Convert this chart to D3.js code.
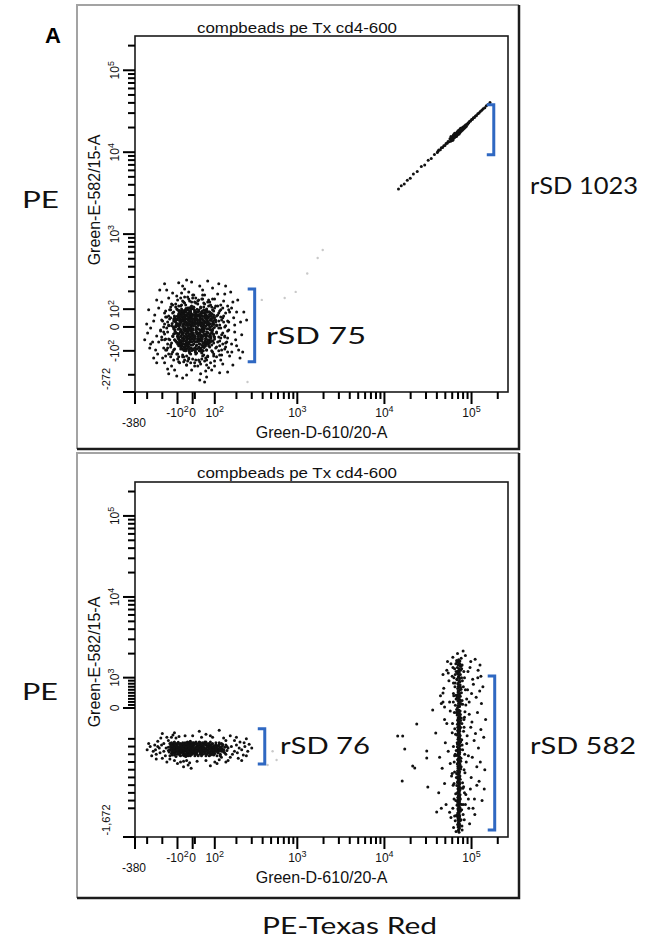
<!DOCTYPE html>
<html><head><meta charset="utf-8">
<script src="https://cdn.jsdelivr.net/npm/d3@7"></script>
<style>body{margin:0;background:#fff}svg{display:block}</style>
</head><body>
<svg id="c" width="656" height="941"></svg>
<script>
// ---------------- DATA ----------------
const xDomain = [-380, 262144];
const yDomainTop = [-272, 262144];
const yDomainBottom = [-1672, 262144];

const xTickVals = [-100, 0, 100, 1000, 10000, 100000];
const xTickBase = ["-10", "0", "10", "10", "10", "10"];
const xTickExp  = ["2", "", "2", "3", "4", "5"];
const xMinorTicks = [-300, -200, 10, 200, 300, 400, 500, 600, 700, 800, 900, 2000, 3000, 4000, 5000, 6000, 7000, 8000, 9000, 20000, 30000, 40000, 50000, 60000, 70000, 80000, 90000, 200000];

const yTickValsTop = [-100, 0, 100, 1000, 10000, 100000];
const yTickBaseTop = ["-10", "0", "10", "10", "10", "10"];
const yTickExpTop  = ["2", "", "2", "3", "4", "5"];
const yMinorTop = [-200, 200, 300, 400, 500, 600, 700, 800, 900, 2000, 3000, 4000, 5000, 6000, 7000, 8000, 9000, 20000, 30000, 40000, 50000, 60000, 70000, 80000, 90000, 200000];

const yTickValsBottom = [0, 1000, 10000, 100000];
const yTickBaseBottom = ["0", "10", "10", "10"];
const yTickExpBottom  = ["", "3", "4", "5"];
const yMinorBottom = [-1300, -1200, -1100, -1000, -900, -800, -700, -600, -500, -400, 100, 200, 300, 400, 500, 600, 700, 800, 900, 2000, 3000, 4000, 5000, 6000, 7000, 8000, 9000, 20000, 30000, 40000, 50000, 60000, 70000, 80000, 90000, 200000];

const panelTitle = "compbeads pe Tx cd4-600";
const xAxisTitle = "Green-D-610/20-A";
const yAxisTitle = "Green-E-582/15-A";

// top panel: unstained population (near zero) [x, y]
const negPopTop = [
[-12,5],[34,-22],[-58,40],[20,61],[-95,-30],[71,14],[5,-70],[-33,-48],[48,36],[-70,72],
[15,-15],[-5,28],[62,-51],[-110,10],[27,88],[-44,-8],[88,-20],[-20,-92],[39,7],[-80,-64],
[0,47],[57,66],[-125,45],[12,-40],[-60,-25],[62,-64],[-28,80],[44,-6],[-84,72],[23,22],
[-15,-60],[66,40],[-52,-85],[8,95],[-88,-5],[30,-88],[-38,18],[95,55],[-130,-40],[18,-30],
[-8,-12],[52,10],[-72,30],[36,75],[-86,-58],[82,-45],[-25,52],[3,-95],[-48,95],[60,-30],
[-18,38],[41,-60],[-65,-45],[14,70],[-120,62],[90,30],[-35,-72],[26,-10],[-82,12],[50,95],
[-3,-35],[70,-8],[-90,55],[10,15],[-55,-98],[80,80],[-22,-28],[33,50],[-115,-18],[47,-80],
[-10,100],[64,-66],[-75,-80],[22,35],[-40,62],[98,-2],[-135,20],[6,-55],[-62,8],[38,-38],
[-30,-5],[55,25],[-100,40],[18,-75],[-50,-40],[85,60],[-12,78],[28,-50],[-68,-92],[43,88],
[-6,-22],[58,-74],[-84,75],[14,2],[-45,28],[92,-58],[-26,-100],[35,32],[-118,-55],[58,48],
[-14,12],[46,-20],[-76,-12],[24,82],[-92,74],[78,-32],[-36,-55],[9,-88],[-58,58],[66,12],
[-20,-45],[40,65],[-80,-74],[17,-5],[-48,-18],[70,-62],[-30,95],[31,-30],[-126,0],[54,78],
[2,-8],[61,-42],[-66,50],[21,-62],[-42,-66],[94,22],[-16,66],[37,-94],[-86,35],[48,0],
[-9,58],[68,58],[-84,-78],[11,-48],[-56,18],[79,-12],[-24,-82],[29,68],[-78,-38],[52,-65],
[-2,20],[44,44],[-64,-60],[16,-22],[-112,28],[74,-56],[-34,8],[5,110],[-96,-48],[62,92],
[-18,-8],[28,15],[-52,70],[40,-48],[-106,-64],[86,4],[-28,-36],[20,100],[-74,90],[48,-84],
[-4,-50],[34,58],[-82,-22],[8,40],[-46,-80],[96,-40],[-22,18],[12,-105],[-60,-8],[70,30],
[-40,45],[50,-10],[-94,18],[26,-40],[-66,-70],[83,45],[-10,-75],[42,22],[-122,-28],[18,85],
[-32,-20],[64,-20],[-50,88],[2,-30],[-86,-56],[76,70],[-14,50],[30,-70],[-102,60],[46,60],
[-26,30],[58,-48],[-70,-30],[14,-90],[-44,104],[72,-70],[-6,8],[38,-14],[-80,45],[22,-55],
[-56,-50],[68,-70],[-18,88],[6,25],[-38,-90],[80,18],[-62,35],[32,38],[-90,-74],[54,-36],
[-12,-40],[44,-78],[-88,92],[10,60],[-50,-10],[72,52],[-30,-64],[24,-25],[-76,58],[60,68],
[-4,70],[36,-56],[-58,-72],[18,46],[-96,-10],[84,-26],[-24,-14],[48,-100],[-42,-30],[66,82],
[-3,12],[25,-8],[-40,25],[58,30],[-78,-18],[12,-62],[-20,58],[40,-35],[-60,-60],[80,38],
[3,-25],[-28,-3],[47,15],[-95,5],[16,72],[-50,40],[75,-40],[-10,-88],[31,27],[-70,-48],
[-1,33],[52,-18],[-84,40],[22,-48],[-38,-38],[66,62],[-16,92],[35,-72],[-104,-26],[10,52],
[-25,-70],[60,5],[-58,80],[5,-44],[-80,22],[90,-10],[-45,-95],[28,95],[-115,48],[42,48],
[-7,-5],[18,20],[-33,-22],[56,-58],[-63,15],[9,82],[-92,-66],[72,22],[-22,70],[34,-12],
[-52,-2],[84,-60],[-12,-30],[46,80],[-74,60],[0,-75],[-100,-40],[64,44],[-30,40],[20,-92],
[-46,-58],[78,-2],[-8,44],[38,-88],[-72,-80],[54,56],[-18,-52],[26,8],[-68,-22],[14,-12],
[-36,72],[94,-30],[-120,32],[6,70],[-56,-84],[70,-24],[-24,10],[44,-50],[-88,70],[30,60],
[-4,-62],[62,24],[-64,46],[18,-2],[-42,-12],[86,74],[-14,-16],[50,-30],[-98,12],[24,40],
[-30,-84],[58,-70],[-54,28],[2,102],[-76,-72],[40,2],[-20,-40],[58,90],[-108,-60],[12,28],
[-44,10],[32,-26],[-70,84],[76,-66],[-6,-98],[22,66],[-90,-30],[48,-68],[-26,48],[96,14],
[-60,-36],[8,-36],[-36,96],[54,-4],[-82,-10],[28,-60],[-12,26],[72,86],[-118,-12],[36,18],
[-48,-72],[82,-48],[-2,62],[44,-98],[-66,2],[16,-80],[-32,58],[60,-62],[-94,50],[4,6],
[-20,-64],[66,-36],[-52,52],[26,-36],[-78,-58],[88,48],[-10,74],[38,70],[-112,0],[50,34],
[-38,-48],[14,40],[-52,-90],[74,8],[-28,18],[42,-16],[-86,8],[6,-58],[-46,84],[80,-62],
[-16,-4],[30,-100],[-72,38],[56,70],[-84,-70],[20,-22],[-40,-26],[64,-8],[-8,104],[46,-40],
[-58,-14],[10,88],[-34,-78],[80,60],[-90,88],[34,42],[-24,-94],[70,-54],[-66,70],[0,-14],
[-48,62],[58,-80],[-14,-60],[28,-84],[-80,-40],[98,38],[-4,-40],[36,-44],[-56,92],[18,58],
[-30,-12],[48,20],[-106,20],[12,-100],[-42,-44],[84,-14],[-18,40],[52,-86],[-74,-84],[40,84],
[127,-4],[118,34],[113,67],[95,90],[72,118],[50,135],[23,146],[-7,140],[-53,135],[-73,124],
[-105,101],[-132,79],[-152,45],[-158,11],[-165,-21],[-158,-50],[-145,-75],[-125,-96],[-99,-113],[-66,-125],
[-26,-134],[14,-138],[41,-134],[68,-121],[90,-105],[108,-84],[122,-59],[131,-33],
[145,0],[136,51],[122,90],[104,118],[77,140],[45,157],[14,163],[-26,157],[-66,146],[-112,129],
[-145,96],[-171,56],[-185,17],[-191,-21],[-185,-54],[-165,-88],[-139,-113],[-99,-134],[-59,-146],[-13,-150],
[32,-146],[63,-138],[95,-121],[118,-100],[136,-71],[145,-42],
[108,6],[104,39],[86,73],[63,96],[36,112],[5,112],[-33,107],[-66,90],[-92,67],[-112,39],
[-125,0],[-125,-29],[-112,-59],[-92,-79],[-59,-96],[-20,-109],[14,-113],[41,-109],[63,-96],[86,-75],
[99,-50],[108,-25],
[158,34],[149,79],[127,124],[90,157],[54,180],[0,180],[-53,169],[-99,152],[-139,129],[-178,90],
[-204,39],[-211,-13],[-204,-54],[-178,-96],[-145,-125],[-92,-146],[-40,-159],[23,-163],[63,-159],[99,-142],
[131,-117],[149,-84],[158,-46],[163,-13],
[81,-38],[-79,28],[59,56],[-46,-71],[90,17],[-99,-38],[27,-88],[-13,84],[72,-63],[-59,51],
[122,11],[108,62],[90,96],[54,129],[9,140],[-46,124],[-99,96],[-145,51],[-171,-4],[-151,-54],
[-119,-92],[-66,-117],[0,-134],[45,-121],[86,-100],[113,-63],[136,-25],[131,39],[99,107],[68,140],
[27,152],[-20,146],[-79,118],[-125,84],[-165,28],[-185,-29],[-165,-71],[-132,-105],[-92,-125],[-33,-142],
[27,-138],[68,-125],[104,-88],[127,-46],[149,6],[118,79],[81,124],[41,157],[0,163],[-59,140],
[-112,112],[-158,62],[-191,0],[-178,-50],[-145,-84],[-105,-113],[-53,-138],[9,-150],[54,-142],[95,-113],
[122,-79],[145,-38],[104,28],[95,67],[63,101],[-7,118],[-73,101],[-119,56],[-139,6],[-132,-38],
[-99,-71],[-46,-100],[18,-109],[63,-96],[95,-67],[108,-21],[154,-63],[140,62],[72,152],[-33,169],
[-132,124],[-198,34],[-204,-42],[-171,-96],[-86,-150],[36,-155],[108,-125],[145,-92],[158,-17],[127,96],
[50,112],[-26,107],[-86,79],[-125,34],[-112,-25],[-79,-84],[-13,-113],[41,-105],[77,-84],[99,-42],
[118,-4],[81,39],[-152,96],[-59,-125],[131,-96],[23,129],[-178,56],[59,-130],[140,28],[-26,-130],
[99,51],[77,84],[36,107],[-13,112],[-66,90],[-105,45],[-125,-8],[-119,-54],[-79,-92],[-20,-105],
[32,-100],[72,-79],[95,-33],[108,11],[86,112],[14,135],[-92,118],[-158,6],[-139,-67],[-40,-121],
[50,-117],[118,-42],[127,56],[59,84],[-46,90],[-99,17],[-92,-46],[0,-92],[54,-71],[90,-13],
[113,118],[5,180],[-145,112],[-211,-17],[-158,-113],[9,-163],[122,-117],[163,28],[45,180],[-79,163],
[-185,79],[-224,-63],[-125,-138],[81,-150],[149,-67],[167,84],[99,157],[-178,-121],[-40,-159],[136,107],
[191,11],[176,-71],[201,84],[182,140],[145,185],[90,220],[32,233],[-53,214],[-132,191],[-204,140],
[-250,67],[-277,-4],[-264,-63],[-231,-113],[-185,-150],[-119,-180],[-40,-201],[36,-196],[86,-180],[136,-155],
[167,-121],[196,-54],[223,28],[212,-96],[172,197],[118,247],[-7,261],[-92,254],[-171,208],[-237,152],
[-290,96],[-297,-25],[-283,-88],[-237,-150],[-158,-196],[-66,-213],[63,-209],[122,-192],[182,-159],[230,-33],
[243,84],[207,152],[149,233],[68,267],[-40,275],[-217,208],[-303,17],[-257,-130],[-105,-205],[32,-222],
[158,-188],[220,-130],[163,96],[158,-105],[113,185],[-73,191],[-224,107],[-237,-38],[-198,-130],[-7,-180],
[72,-171],[186,51],[-139,-163],[-257,34],[45,208],[140,146],[-158,163],[177,-105],[99,-163],[-277,-71],
[-26,197],[191,-21],[-191,-88],[127,-138],[-105,174],[158,118],[-244,-96],[59,-184],[-165,-176],[201,-79],
[-66,233],[176,107],[262,39],[-316,-54],[54,-230],[-185,247],[236,-105]
];

// top panel: PE-Texas Red stained beads (diagonal spillover) [x, y]
const posPopTop = [
[14500,3550],[15600,3900],[16900,4100],[18300,4560],[19800,4800],[21500,5400],[23800,5800],[26500,6700],[29000,7000],[31800,8000],[34500,8400],[37500,9400],
[40500,9900],[41200,10300],[42000,10600],[43800,10700],[45000,11300],[46500,11400],[48000,12000],[49500,12100],[51000,12800],[52500,12900],[53800,13500],[55000,13400],
[56500,14600],[57500,13600],[58200,14900],[59000,13900],[59800,15300],[60500,14200],[61200,15600],[62000,14700],[62600,16000],[63300,15000],
[64000,16400],[64500,15300],[65200,16700],[65800,16250],[66000,15700],[66500,17000],[67200,15900],[68000,17500],[68600,16300],[69300,17700],
[70000,16600],[70700,18100],[71000,17550],[71500,17000],[72200,18400],[73000,17300],[73800,18800],[74600,17700],[75500,19200],[76400,18100],
[77300,19600],[78200,18500],[79200,20100],[80200,19000],[81300,20500],[82500,19600],[83600,21000],[84800,20100],[86000,21600],[87200,20700],
[60000,14900],[63000,15500],[66800,16500],[69800,17200],[72600,17900],[75000,18500],[78000,19300],[81000,20000],
[58000,15500],[61000,14000],[64000,17000],[67000,15500],[70000,18300],[72000,16700],[75000,19600],[62000,16300],[68000,16000],[73500,19000],
[89500,22000],[90500,22100],[91000,22800],[93000,22900],[95000,23800],[97500,24000],[100000,25000],[102500,25200],[105000,26300],[108000,26500],
[111000,27700],[114000,28000],[118000,29500],[122000,30000],[126000,31500],
[131000,32500],[136000,34000],[142000,35000],[148000,37000],[155000,38200],[163000,40500]
];
const faintTop = [[716,163],[958,197],[1713,511],[1957,641],[391,152],[268,-230],[1300,330]];

// bottom panel: unstained population [x, y]
const negPopBottom = [
[20,-510],[-45,-540],[75,-490],[-110,-520],[110,-560],[-20,-470],[45,-600],[-80,-580],[5,-450],[130,-520],
[-140,-500],[60,-530],[-60,-480],[95,-610],[-30,-590],[150,-480],[-95,-445],[35,-470],[-5,-560],[85,-540],
[-125,-560],[10,-620],[-70,-520],[120,-470],[-40,-500],[70,-580],[-150,-540],[25,-545],[-15,-430],[100,-500],
[-100,-600],[55,-460],[-55,-560],[140,-570],[-25,-520],[80,-440],[-130,-470],[0,-500],[90,-580],[-85,-490],
[40,-530],[-120,-610],[115,-530],[-35,-460],[65,-510],[-160,-510],[15,-580],[-75,-550],[135,-490],[-10,-490],
[50,-560],[-105,-480],[105,-450],[-45,-610],[30,-440],[-90,-540],[155,-550],[-20,-550],[75,-620],[-135,-530],
[-65,-500],[125,-600],[-5,-470],[60,-480],[-115,-570],[20,-600],[-50,-450],[95,-520],[-145,-480],[40,-490],
[-30,-620],[110,-500],[-80,-460],[5,-540],[145,-510],[-100,-530],[70,-550],[-15,-600],[85,-470],[-125,-450],
[35,-580],[-60,-590],[120,-550],[-40,-530],[0,-450],[100,-590],[-155,-570],[50,-510],[-85,-610],[130,-460],
[-20,-500],[65,-600],[-110,-460],[15,-470],[-70,-490],[160,-520],[-35,-570],[80,-500],[-140,-590],[25,-620],
[-95,-510],[45,-450],[-5,-600],[115,-580],[-60,-530],[90,-460],[-130,-520],[10,-560],[-45,-480],[140,-540],
[-115,-500],[55,-590],[-25,-450],[75,-520],[-150,-460],[35,-510],[-80,-620],[105,-480],[-10,-530],[60,-440],
[-105,-560],[20,-490],[-55,-620],[125,-510],[-35,-440],[90,-550],[-135,-610],[0,-590],[45,-570],[-75,-470],
[150,-600],[-20,-580],[70,-460],[-120,-540],[30,-560],[-65,-450],[110,-620],[-95,-590],[15,-510],[-40,-560],
[85,-600],[-145,-500],[55,-440],[-5,-510],[-85,-520],[135,-470],[-30,-480],[100,-560],[-110,-630],[40,-600],
[-60,-460],[120,-450],[-15,-620],[65,-540],[-125,-490],[25,-460],[-50,-600],[95,-500],[-160,-550],[5,-480],
[-90,-570],[145,-580],[-25,-540],[80,-610],[-140,-450],[50,-470],[-70,-560],[115,-490],[-40,-590],[10,-530],
[-100,-500],[60,-620],[-10,-460],[130,-560],[-130,-580],[35,-450],[-55,-510],[90,-600],[-150,-620],[20,-570],
[-80,-530],[105,-540],[-20,-440],[70,-490],[-115,-590],[45,-540],[-45,-630],[155,-500],[0,-560],[-65,-610],
[-35,-510],[75,-470],[-95,-460],[125,-620],[-5,-580],[40,-620],[-120,-440],[85,-520],[-60,-570],[15,-440],
[-8,-515],[52,-545],[-72,-505],[88,-525],[-118,-535],[28,-485],[-38,-575],[112,-515],[-92,-560],[6,-530],
[68,-495],[-52,-525],[134,-535],[-18,-565],[44,-505],[-132,-545],[82,-565],[-62,-465],[18,-545],[102,-525],
[-102,-515],[58,-575],[-28,-495],[122,-545],[-78,-535],[-2,-475],[92,-505],[-122,-525],[38,-555],[-48,-545],
[118,-485],[-88,-505],[12,-595],[72,-535],[-112,-555],[-32,-535],[98,-565],[-68,-575],[48,-485],[-142,-525],
[24,-525],[-58,-495],[86,-545],[-96,-545],[4,-505],[128,-505],[-22,-515],[62,-555],[-128,-505],[34,-595],
[-42,-465],[108,-555],[-82,-585],[16,-465],[76,-515],[-108,-495],[-12,-545],[54,-525],[-138,-565],[96,-485],
[-66,-545],[42,-575],[-4,-555],[114,-575],[-86,-525],[26,-505],[-46,-595],[84,-495],[-116,-475],[64,-505],
[-26,-605],[-74,-515],[138,-555],[8,-575],[-56,-535],[106,-505],[-98,-575],[32,-535],[-14,-485],[78,-585],
[-124,-555],[46,-525],[-36,-555],[94,-545],[-84,-475],[14,-555],[-64,-525],[126,-525],[-6,-595],[58,-465],
[-104,-545],[22,-515],[-44,-505],[74,-565],[-134,-495],[38,-475],[-16,-575],[104,-535],[-76,-555],[2,-525],
[-220,-520],[200,-480],[-260,-560],[230,-540],[-190,-460],[180,-600],[-240,-600],[250,-500],[-280,-500],[210,-650],
[-200,-650],[190,-420],[-170,-380],[160,-680],[-230,-430],[270,-560],[-300,-540],[140,-390],[-120,-680],[100,-700],
[-60,-690],[40,-380],[-20,-710],[80,-360],[-90,-370],[120,-670],[-150,-660],[220,-440],[-210,-390],[170,-640],
[-250,-480],[240,-610],[-180,-620],[200,-380],[-140,-380],[60,-680],[0,-360],[-40,-680],[150,-420],[-110,-390],
[-270,-620],[280,-470],[-190,-560],[190,-560],[-230,-500],[260,-620],[-160,-420],[130,-640],[-80,-700],[20,-690],
[-290,-460],[300,-520],[-215,-580],[215,-520],[-175,-520],[175,-500],[-245,-540],[245,-450],[-205,-480],[205,-580],
[-100,-720],[90,-380],[-130,-350],[60,-340],[-50,-360],[110,-720],[-30,-740],[150,-700],[-170,-700],[30,-300],
[-240,-660],[230,-680],[-60,-760],[80,-750],[-120,-320],[170,-360],[-10,-780],[120,-290],[-200,-330],[260,-400]
];

// bottom panel: PE-Texas Red stained beads (vertical streak) [x, y]
const posPopBottom = [
[71000,1680],[73500,1620],[69500,1560],[72400,1500],[70300,1450],[74200,1400],[68800,1350],[71800,1300],[73000,1260],[70000,1220],
[72000,1180],[69000,1140],[74500,1100],[71200,1050],[70600,1010],[73200,970],[68500,930],[72600,890],[71500,850],[69700,800],
[74000,760],[70800,720],[72200,680],[69300,640],[73700,600],[71100,550],[70200,510],[72900,470],[68900,430],[74300,390],
[71600,350],[70400,310],[73100,280],[69600,240],[72300,200],[71000,160],[74800,120],[70100,80],[72700,50],[69200,20],
[71300,-25],[73900,-38],[69100,-44],[72400,-61],[70500,-70],[74600,-85],[68400,-92],[71800,-108],[73000,-117],[70100,-131],
[72500,-140],[69700,-156],[75100,-163],[71100,-177],[70400,-190],[73600,-198],[68900,-212],[72100,-225],[71500,-231],[69500,-248],
[74200,-256],[70900,-270],[72800,-278],[69300,-293],[73300,-301],[71000,-316],[70200,-325],[72600,-338],[67900,-349],[74000,-357],
[71700,-370],[70600,-384],[73200,-391],[69800,-405],[72300,-415],[71200,-428],[75000,-436],[70000,-449],[72900,-460],[69000,-471],
[71400,-480],[73700,-494],[68700,-503],[72000,-517],[70700,-526],[74500,-538],[69400,-549],[71900,-560],[73100,-572],[70300,-581],
[72700,-595],[69900,-604],[67500,-616],[71600,-627],[73500,-637],[70800,-650],[72200,-658],[69200,-672],[74300,-683],[71000,-691],
[70500,-704],[72900,-715],[68600,-726],[73800,-735],[71300,-748],[69700,-757],[72400,-770],[70100,-781],[74900,-790],[71800,-803],
[69000,-812],[73000,-826],[70700,-836],[72100,-848],[68200,-857],[71500,-869],[73600,-880],[70300,-892],[72600,-901],[69600,-914],
[74100,-923],[71100,-936],[70000,-947],[72800,-958],[69300,-969],[73300,-981],[71700,-990],[67800,-1003],[72300,-1012],[70900,-1024],
[74600,-1035],[69800,-1046],[71400,-1057],[73100,-1069],[70400,-1080],[72000,-1091],[68800,-1102],[71900,-1114],[73900,-1125],[70600,-1136],
[72500,-1147],[69500,-1159],[71200,-1170],[74400,-1181],[70200,-1192],[72900,-1204],[69100,-1215],[71600,-1226],[73400,-1237],[70800,-1248],
[68300,-1260],[72200,-1271],[71000,-1282],[73700,-1293],[69700,-1305],[72700,-1316],[70500,-1327],[74200,-1338],[71300,-1350],[69400,-1361],
[72100,-1372],[70900,-1384],[73200,-1395],[68900,-1406],[71800,-1417],[70300,-1429],[72600,-1440],[69900,-1451],[74000,-1463],[71100,-1474],
[70600,-1486],[72400,-1497],[69200,-1509],[73000,-1520],[71500,-1532],[70100,-1544],[72800,-1556],[71200,-1570],[70700,-1588],[71900,-1610],
[66000,1500],[77000,1300],[65000,1100],[78500,900],[64500,700],[76500,500],[66500,300],[79000,120],[63500,-60],[77500,-200],
[65500,-340],[78000,-480],[64000,-620],[76000,-760],[67000,-900],[79500,-1040],[63000,-1180],[77000,-1320],[65000,-1460],[78000,-1580],
[67500,1650],[75500,1400],[66500,1200],[76800,1000],[64800,820],[75800,620],[66200,420],[77800,250],[65200,90],[76200,-130],
[64200,-270],[77200,-410],[66800,-550],[75200,-690],[63800,-830],[78800,-970],[65800,-1110],[76400,-1250],[67200,-1390],[77600,-1530],
[68000,1580],[74800,1250],[67800,950],[74600,680],[68200,360],[75400,150],[67400,-20],[74400,-250],[68400,-450],[75600,-650],
[67600,-850],[74200,-1050],[68600,-1250],[75800,-1450],[66400,-1600],[73800,1480],[69800,1160],[73400,860],[70200,560],[73600,220],
[69400,-160],[73200,-360],[70600,-560],[72800,-760],[69000,-960],[73000,-1160],[70400,-1360],[72600,-1520],[71400,1560],[71200,1100],
[71800,740],[71000,410],[72200,60],[70800,-300],[72000,-600],[71600,-880],[70900,-1130],[72100,-1420],[62000,-500],[81000,-300],
[61500,-1000],[82000,-800],[62500,400],[80500,700],[61000,-1300],[83000,-1100],[62800,1000],[81500,1200],[60500,-200],[84000,-50],
[63200,-700],[80000,-1250],[61800,200],[82500,-1450],[60000,-850],[85000,600],[62200,-1550],[83500,-600],[61200,1350],[81800,-150],
[85000,1900],[58000,1500],[96000,1350],[47000,1100],[110000,1700],[62000,820],[90000,600],[52000,1250],[125000,1450],[80000,2150],
[44000,400],[103000,950],[56000,200],[118000,1000],[88000,300],[64000,1300],[135000,700],[49000,-150],[94000,-80],[60000,-320],
[82000,-250],[107000,-420],[54000,-560],[92000,-620],[128000,-280],[46000,-780],[99000,-900],[63000,-980],[86000,-1120],[115000,-760],
[51000,-1250],[80000,-1380],[104000,-1300],[58000,-1420],[140000,-1050],[42000,-1100],[95000,-1500],[66000,-1200],[120000,-520],[87000,-700],
[55000,900],[98000,1600],[61000,1800],[113000,350],[48000,650],[83000,1000],[130000,150],[57000,-40],[101000,-180],[65000,-600],
[89000,-360],[122000,-950],[50000,-450],[84000,-840],[108000,-1180],[59000,-880],[93000,-1300],[138000,-380],[45000,-1300],[79000,-540],
[117000,-60],[53000,1600],[100000,480],[62000,480],[91000,1200],[126000,-700],[47000,200],[81000,-1020],[145000,-150],[56000,-1350],
[105000,780],[67000,-60],[97000,-1050],[43000,-640],[111000,-330],[60000,1050],[85000,-1250],[132000,-1200],[52000,-200],[94000,200],
[78000,1450],[119000,1250],[64000,-1400],[88000,-460],[49000,-980],[102000,-640],[124000,560],[57000,-720],[83000,-120],[142000,-800],
[69000,2000],[76000,1750],[86000,100],[109000,-1380],[45000,150],[128000,1050],[92000,-1180],[54000,1150],[115000,-1000],[98000,-250],
[14200,-363],[16200,-363],[17100,-531],[23500,-207],[21100,-751],[22300,-777],[16000,-946],[30600,-557],[30600,-648],[35800,-26],
[31500,-1023],[38800,-324],[39800,-1347],[47000,495],[49000,33]
];
const faintBottom = [[456,-738],[578,-674],[520,-560]];

// rSD brackets (data units): x position, y range
const bracketsTop = [{x: 180000, y0: 9300, y1: 38000}, {x: 324, y0: -146, y1: 214}];
const bracketsBottom = [{x: 184500, y0: -1580, y1: 1056}, {x: 423, y0: -725, y1: -270}];

const sideLabels = [
  {t: "PE", x: 22, y: 208, w: 37},
  {t: "rSD 1023", x: 530, y: 194, w: 108},
  {t: "rSD 75", x: 266, y: 344, w: 100},
  {t: "PE", x: 22, y: 700, w: 36},
  {t: "rSD 76", x: 280, y: 754, w: 90},
  {t: "rSD 582", x: 530, y: 754, w: 106},
  {t: "PE-Texas Red", x: 262, y: 934, w: 175}
];

// ---------------- DRAW ----------------
const svg = d3.select("#c");
svg.append("rect").attr("width", 656).attr("height", 941).attr("fill", "#fff");

function biexScale(min, max, L, sn, r0, r1) {
  const t = v => v >= 0 ? (v < L ? v / (L * Math.LN10) : 1 / Math.LN10 + Math.log10(v / L)) : v * sn;
  const lin = d3.scaleLinear().domain([t(min), t(max)]).range([r0, r1]);
  return v => lin(t(v));
}

const FONT = "'Liberation Sans', Arial, sans-serif";
const SIDEFONT = "Lato, 'Open Sans', sans-serif";
const PLOT_L = 135, PLOT_R = 508;

const panels = [
  {box: [77, 5, 519, 449], top: 36, bottom: 392, yDom: yDomainTop, yL: 200, ySn: 2.92e-3,
   yVals: yTickValsTop, yBase: yTickBaseTop, yExp: yTickExpTop, yMinor: yMinorTop, minLabel: "-272", minLabelY: 379,
   titleY: 33, yTitleY: 200, neg: negPopTop, pos: posPopTop, faint: faintTop, brackets: bracketsTop},
  {box: [77, 453, 519, 898], top: 482, bottom: 837, yDom: yDomainBottom, yL: 1160, ySn: 9.52e-4,
   yVals: yTickValsBottom, yBase: yTickBaseBottom, yExp: yTickExpBottom, yMinor: yMinorBottom, minLabel: "-1,672", minLabelY: 820,
   titleY: 478, yTitleY: 662, neg: negPopBottom, pos: posPopBottom, faint: faintBottom, brackets: bracketsBottom}
];

panels.forEach(p => {
  const g = svg.append("g");
  const xs = biexScale(xDomain[0], xDomain[1], 171, 1.742e-3, PLOT_L, PLOT_R);
  const ys = biexScale(p.yDom[0], p.yDom[1], p.yL, p.ySn, p.bottom, p.top);
  const [bx0, by0, bx1, by1] = p.box;

  // outer box
  g.append("path").attr("d", `M${bx0},${by1}V${by0}H${bx1}`).attr("fill", "none").attr("stroke", "#a3a3a3").attr("stroke-width", 2);
  g.append("path").attr("d", `M${bx1},${by0}V${by1}H${bx0}`).attr("fill", "none").attr("stroke", "#1c1c1c").attr("stroke-width", 2.5);

  // plot frame
  g.append("rect").attr("x", PLOT_L).attr("y", p.top).attr("width", PLOT_R - PLOT_L).attr("height", p.bottom - p.top)
    .attr("fill", "none").attr("stroke", "#1a1a1a").attr("stroke-width", 1.6);

  // points
  g.append("g").selectAll("circle").data(p.faint).join("circle")
    .attr("cx", d => xs(d[0])).attr("cy", d => ys(d[1])).attr("r", 1.2).attr("fill", "#c9c9c9");
  g.append("g").selectAll("circle").data(p.neg.concat(p.pos)).join("circle")
    .attr("cx", d => xs(d[0])).attr("cy", d => ys(d[1])).attr("r", 1.5).attr("fill", "#111");

  // ticks as filled rects (from the scales)
  const tg = g.append("g").attr("fill", "#000");
  const xMajor = [xDomain[0]].concat(xTickVals);
  const yMajor = [p.yDom[0]].concat(p.yVals);
  tg.selectAll("rect.xM").data(xMajor).join("rect").attr("class", "xM")
    .attr("x", v => xs(v) - 1).attr("y", p.bottom).attr("width", 2).attr("height", 12);
  tg.selectAll("rect.xm").data(xMinorTicks).join("rect").attr("class", "xm")
    .attr("x", v => xs(v) - 1).attr("y", p.bottom).attr("width", 2).attr("height", 7);
  tg.selectAll("rect.yM").data(yMajor).join("rect").attr("class", "yM")
    .attr("x", PLOT_L - 12).attr("y", v => ys(v) - 1).attr("width", 12).attr("height", 2);
  tg.selectAll("rect.ym").data(p.yMinor).join("rect").attr("class", "ym")
    .attr("x", PLOT_L - 7).attr("y", v => ys(v) - 1).attr("width", 7).attr("height", 2);

  // x tick labels
  xTickVals.forEach((v, i) => {
    const t = g.append("text").attr("x", xs(v)).attr("y", p.bottom + 25).attr("text-anchor", "middle")
      .attr("font-family", FONT).attr("font-size", 12).attr("fill", "#111");
    t.append("tspan").text(xTickBase[i]);
    if (xTickExp[i]) t.append("tspan").attr("dy", -5).attr("font-size", 9).text(xTickExp[i]);
  });
  g.append("text").attr("x", 134).attr("y", p.bottom + 35).attr("text-anchor", "middle")
    .attr("font-family", FONT).attr("font-size", 12).attr("fill", "#111").text(String(xDomain[0]));

  // y tick labels (rotated)
  p.yVals.forEach((v, i) => {
    const t = g.append("text").attr("transform", `translate(119,${ys(v)}) rotate(-90)`).attr("text-anchor", "middle")
      .attr("font-family", FONT).attr("font-size", 12).attr("fill", "#111");
    t.append("tspan").text(p.yBase[i]);
    if (p.yExp[i]) t.append("tspan").attr("dy", -5).attr("font-size", 9).text(p.yExp[i]);
  });
  g.append("text").attr("transform", `translate(110,${p.minLabelY}) rotate(-90)`).attr("text-anchor", "middle")
    .attr("font-family", FONT).attr("font-size", 11).attr("fill", "#111").text(p.minLabel);

  // titles
  g.append("text").attr("x", 297).attr("y", p.titleY).attr("text-anchor", "middle")
    .attr("font-family", FONT).attr("font-size", 14).attr("fill", "#111")
    .attr("textLength", 200).attr("lengthAdjust", "spacingAndGlyphs").text(panelTitle);
  g.append("text").attr("x", (PLOT_L + PLOT_R) / 2).attr("y", p.bottom + 46).attr("text-anchor", "middle")
    .attr("font-family", FONT).attr("font-size", 16).attr("fill", "#111").text(xAxisTitle);
  g.append("text").attr("transform", `translate(100,${p.yTitleY}) rotate(-90)`).attr("text-anchor", "middle")
    .attr("font-family", FONT).attr("font-size", 16).attr("fill", "#111").text(yAxisTitle);

  // brackets
  p.brackets.forEach(b => {
    const x = xs(b.x), y0 = ys(b.y0), y1 = ys(b.y1);
    g.append("path").attr("d", `M${x - 7},${y1}H${x}V${y0}H${x - 7}`)
      .attr("fill", "none").attr("stroke", "#2f68c2").attr("stroke-width", 3);
  });
});

// panel letter
svg.append("text").attr("x", 45).attr("y", 43).attr("font-family", FONT).attr("font-weight", "bold")
  .attr("font-size", 22).attr("fill", "#000").text("A");

// side annotations
sideLabels.forEach(d => {
  svg.append("text").attr("x", d.x).attr("y", d.y).attr("font-family", SIDEFONT).attr("font-size", 24)
    .attr("fill", "#111").attr("textLength", d.w).attr("lengthAdjust", "spacingAndGlyphs").text(d.t);
});
</script>
</body></html>
